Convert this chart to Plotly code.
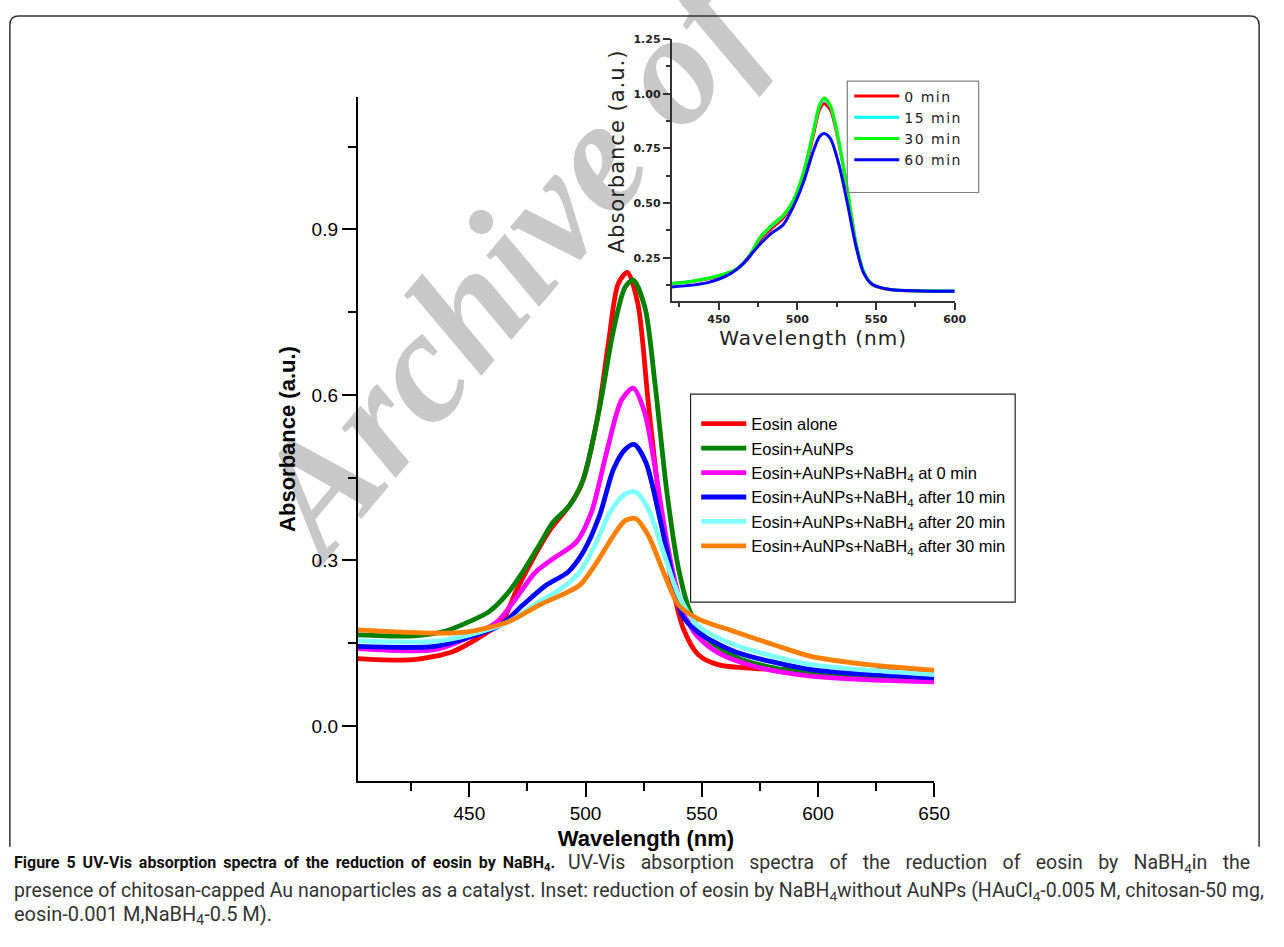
import plotly.graph_objects as go

W, H = 1284, 947

# ---- main panel: UV-Vis spectra with AuNPs (wavelength nm / absorbance a.u.)
wl_alone = [402, 426, 443, 456, 464, 470, 479, 485, 493, 498, 505, 510, 514, 518, 522.5, 527, 532, 537, 542, 548.5, 557, 573, 589, 610, 630, 650]
ab_alone = [0.122, 0.120, 0.135, 0.165, 0.189, 0.243, 0.315, 0.357, 0.399, 0.435, 0.555, 0.699, 0.801, 0.822, 0.765, 0.585, 0.399, 0.261, 0.177, 0.129, 0.111, 0.104, 0.102, 0.101, 0.100, 0.100]

wl_aunp = [402, 426, 439, 450, 458.5, 467, 473, 480, 486, 493, 499, 506, 512, 517, 520.5, 525.5, 530, 535, 540, 545, 551.5, 564, 581, 605, 630, 650]
ab_aunp = [0.165, 0.163, 0.171, 0.189, 0.207, 0.243, 0.279, 0.327, 0.369, 0.399, 0.447, 0.576, 0.717, 0.795, 0.808, 0.759, 0.615, 0.423, 0.285, 0.207, 0.161, 0.126, 0.105, 0.093, 0.089, 0.087]

wl_t0 = [402, 435, 450, 462, 470, 478.5, 486, 496, 502.5, 509, 515.5, 520.5, 525.5, 530, 535, 540, 546.5, 556, 572.5, 597, 625, 650]
ab_t0 = [0.140, 0.138, 0.161, 0.189, 0.231, 0.279, 0.303, 0.333, 0.387, 0.495, 0.591, 0.612, 0.567, 0.465, 0.333, 0.237, 0.171, 0.135, 0.108, 0.090, 0.083, 0.080]

wl_t10 = [402, 435, 450, 463.5, 473, 483, 492.5, 499, 506, 512, 517, 521, 526, 532, 537, 541.5, 548, 564, 597, 625, 650]
ab_t10 = [0.144, 0.144, 0.161, 0.183, 0.219, 0.255, 0.279, 0.315, 0.381, 0.465, 0.501, 0.510, 0.477, 0.375, 0.279, 0.201, 0.171, 0.135, 0.102, 0.093, 0.087]

wl_t20 = [402, 435, 450, 467, 480, 489.5, 497.5, 504, 510.5, 517, 521.5, 527, 533.5, 540, 548, 564, 597, 625, 650]
ab_t20 = [0.154, 0.153, 0.165, 0.189, 0.225, 0.249, 0.279, 0.327, 0.387, 0.420, 0.424, 0.393, 0.315, 0.237, 0.183, 0.147, 0.111, 0.100, 0.093]

wl_t30 = [402, 435, 450, 467, 480, 489.5, 497.5, 504, 512, 517, 521.5, 527, 533.5, 540, 548, 564, 581, 597, 621.5, 650]
ab_t30 = [0.174, 0.168, 0.171, 0.189, 0.219, 0.237, 0.255, 0.291, 0.345, 0.372, 0.376, 0.345, 0.279, 0.219, 0.195, 0.171, 0.147, 0.126, 0.111, 0.101]

main_names = ["Eosin alone", "Eosin+AuNPs",
              "Eosin+AuNPs+NaBH<sub>4</sub> at 0 min",
              "Eosin+AuNPs+NaBH<sub>4</sub> after 10 min",
              "Eosin+AuNPs+NaBH<sub>4</sub> after 20 min",
              "Eosin+AuNPs+NaBH<sub>4</sub> after 30 min"]
main_colors = ["#ff0000", "#008000", "#ff00ff", "#0000ff", "#80ffff", "#ff8000"]
main_x = [wl_alone, wl_aunp, wl_t0, wl_t10, wl_t20, wl_t30]
main_y = [ab_alone, ab_aunp, ab_t0, ab_t10, ab_t20, ab_t30]

# ---- inset: reduction without AuNPs
wl_in = [420, 432, 449, 462, 470, 476, 484, 491, 497, 504, 510, 514, 517, 521, 526.5, 532, 537, 542, 547.5, 558, 579, 600]
ab_in0 = [0.132, 0.140, 0.164, 0.198, 0.258, 0.330, 0.386, 0.432, 0.495, 0.630, 0.805, 0.925, 0.955, 0.925, 0.768, 0.548, 0.324, 0.187, 0.127, 0.104, 0.097, 0.097]
ab_in15 = [0.132, 0.141, 0.166, 0.200, 0.263, 0.338, 0.398, 0.441, 0.504, 0.640, 0.820, 0.942, 0.975, 0.942, 0.776, 0.551, 0.325, 0.188, 0.128, 0.105, 0.098, 0.098]
ab_in30 = [0.132, 0.141, 0.166, 0.201, 0.265, 0.341, 0.401, 0.444, 0.507, 0.644, 0.825, 0.947, 0.980, 0.947, 0.780, 0.553, 0.326, 0.189, 0.129, 0.106, 0.098, 0.098]
wl_in60 = [420, 443, 457.5, 466, 474.5, 482.5, 491, 497, 504, 510, 514, 517, 521, 526.5, 532, 537, 542, 547.5, 558, 579, 600]
ab_in60 = [0.116, 0.136, 0.177, 0.227, 0.298, 0.356, 0.401, 0.477, 0.598, 0.735, 0.803, 0.818, 0.795, 0.674, 0.492, 0.311, 0.182, 0.129, 0.106, 0.098, 0.097]

inset_names = ["0 min", "15 min", "30 min", "60 min"]
inset_colors = ["#ff0000", "#00ffff", "#00ff00", "#0000ff"]
inset_x = [wl_in, wl_in, wl_in, wl_in60]
inset_y = [ab_in0, ab_in15, ab_in30, ab_in60]


def px(x):
    return x / W


def py(y):
    return 1 - y / H


def spaced(s, sp):
    return f"<span style='letter-spacing:{sp}px'>{s}</span>"


fig = go.Figure()

for name, col, xs, ys in zip(main_names, main_colors, main_x, main_y):
    fig.add_trace(go.Scatter(x=xs, y=ys, name=name, mode="lines",
                             line=dict(color=col, width=4.8, shape="spline", smoothing=0.8),
                             xaxis="x", yaxis="y", legend="legend"))

for name, col, xs, ys in zip(inset_names, inset_colors, inset_x, inset_y):
    fig.add_trace(go.Scatter(x=xs, y=ys, name=spaced(name, 1.5), mode="lines",
                             line=dict(color=col, width=3, shape="spline", smoothing=0.8),
                             xaxis="x2", yaxis="y2", legend="legend2"))

sans = "Liberation Sans, Arial, sans-serif"
dv = "DejaVu Sans, sans-serif"

fig.update_layout(
    width=W, height=H,
    margin=dict(l=0, r=0, t=0, b=0),
    paper_bgcolor="white",
    plot_bgcolor="rgba(0,0,0,0)",
    xaxis=dict(domain=[px(362.3), px(946)], range=[402, 650], anchor="y",
               showline=True, linecolor="black", linewidth=2,
               ticks="outside", ticklen=14, tickwidth=2, tickcolor="black",
               tick0=400, dtick=50,
               minor=dict(dtick=25, ticklen=8, tickwidth=2, tickcolor="black", ticks="outside"),
               showgrid=False, zeroline=False,
               tickfont=dict(family=sans, size=19, color="black"),
               title=dict(text="<b>Wavelength (nm)</b>", font=dict(family=sans, size=22, color="black"), standoff=8)),
    yaxis=dict(domain=[py(780), py(91.5)], range=[-0.1, 1.14], anchor="x",
               showline=True, linecolor="black", linewidth=2,
               ticks="outside", ticklen=14, tickwidth=2, tickcolor="black",
               tick0=0, dtick=0.3, tickformat=".1f",
               minor=dict(dtick=0.15, ticklen=8, tickwidth=2, tickcolor="black", ticks="outside"),
               showgrid=False, zeroline=False,
               tickfont=dict(family=sans, size=19, color="black"),
               title=dict(text="<b>Absorbance (a.u.)</b>", font=dict(family=sans, size=22, color="black"), standoff=10)),
    xaxis2=dict(domain=[px(680), px(966.7)], range=[420, 600], anchor="y2",
                showline=True, linecolor="#333333", linewidth=1.5,
                ticks="outside", ticklen=7, tickwidth=1.5, tickcolor="#333333",
                tick0=400, dtick=50,
                minor=dict(dtick=25, ticklen=4, tickwidth=1.5, tickcolor="#333333", ticks="outside"),
                showgrid=False, zeroline=False,
                tickfont=dict(family=dv, size=11, color="#222222", weight="bold"),
                title=dict(text=spaced("Wavelength (nm)", 1), font=dict(family=dv, size=20, color="#222222"), standoff=2)),
    yaxis2=dict(domain=[py(297.3), py(33.3)], range=[0.05, 1.25], anchor="x2",
                showline=True, linecolor="#333333", linewidth=1.5,
                ticks="outside", ticklen=7, tickwidth=1.5, tickcolor="#333333",
                tick0=0, dtick=0.25, tickformat=".2f",
                minor=dict(dtick=0.125, ticklen=4, tickwidth=1.5, tickcolor="#333333", ticks="outside"),
                showgrid=False, zeroline=False,
                tickfont=dict(family=dv, size=11, color="#222222", weight="bold")),
    legend=dict(x=px(705), y=py(403), xanchor="left", yanchor="top",
                bgcolor="rgba(0,0,0,0)", borderwidth=0,
                font=dict(family=sans, size=16.5, color="black"),
                itemwidth=45, tracegroupgap=0),
    legend2=dict(x=px(860), y=py(75), xanchor="left", yanchor="top",
                 bgcolor="rgba(0,0,0,0)", borderwidth=0,
                 font=dict(family=dv, size=14, color="#222222"),
                 itemwidth=45, tracegroupgap=0),
    showlegend=True,
)

# inset y-axis title, placed a little above the axis centre
fig.add_annotation(text=spaced("Absorbance (a.u.)", 1), xref="paper", yref="paper",
                   x=px(625), y=py(146), xanchor="center", yanchor="middle", textangle=-90,
                   showarrow=False, font=dict(family=dv, size=21, color="#222222"))

shapes = []
# legend frames
shapes.append(dict(type="rect", xref="paper", yref="paper",
                   x0=px(699.3), x1=px(1028), y0=py(600), y1=py(390.7),
                   line=dict(color="#222222", width=1.2), fillcolor="rgba(0,0,0,0)"))
shapes.append(dict(type="rect", xref="paper", yref="paper",
                   x0=px(858), x1=px(991), y0=py(187.7), y1=py(75.7),
                   line=dict(color="#808080", width=1.2), fillcolor="rgba(0,0,0,0)"))

# rounded panel frame, open at the bottom above the caption
r = 9
fx0, fx1, fy0, fy1 = 10, 1275, 10, 846
path = (f"M {px(fx0)},{py(fy1)} L {px(fx0)},{py(fy0 + r)} "
        f"Q {px(fx0)},{py(fy0)} {px(fx0 + r)},{py(fy0)} "
        f"L {px(fx1 - r)},{py(fy0)} Q {px(fx1)},{py(fy0)} {px(fx1)},{py(fy0 + r)} "
        f"L {px(fx1)},{py(fy1)}")
shapes.append(dict(type="path", path=path, xref="paper", yref="paper",
                   line=dict(color="#333333", width=1.5)))

# diagonal watermark, kept underneath the plotted data
wm_angle = 50
cx, cy = 598, 130
ux, uy = 0.643, -0.766
L = 300
shapes.append(dict(type="line", xref="paper", yref="paper", layer="below",
                   x0=px(cx - L * ux), y0=py(cy - L * uy), x1=px(cx + L * ux), y1=py(cy + L * uy),
                   line=dict(color="rgba(0,0,0,0)", width=0),
                   label=dict(text="Archive of SID", textposition="middle", yanchor="middle",
                              textangle=-wm_angle,
                              font=dict(family="Liberation Serif, Times New Roman, serif", size=160,
                                        color="#c8c8c8", weight="bold", style="italic"))))
fig.update_layout(shapes=shapes)

# caption below the panel (first two lines spread to the full width)
cap_font = "Roboto, sans-serif"
fig.add_annotation(text="<span style='word-spacing:3px'>Figure 5 UV-Vis absorption spectra of the reduction of eosin by NaBH<sub>4</sub>.</span>",
                   xref="paper", yref="paper", x=px(12), y=py(863), xanchor="left", yanchor="middle",
                   showarrow=False, font=dict(family=cap_font, size=16, color="#111111", weight="bold"))
fig.add_annotation(text="<span style='word-spacing:10.5px'>UV-Vis absorption spectra of the reduction of eosin by NaBH<sub>4</sub>in the</span>",
                   xref="paper", yref="paper", x=px(1268), y=py(863), xanchor="right", yanchor="middle",
                   showarrow=False, font=dict(family=cap_font, size=19.5, color="#333333"))
fig.add_annotation(text="presence of chitosan-capped Au nanoparticles as a catalyst. Inset: reduction of eosin by "
                        "NaBH<sub>4</sub>without AuNPs (HAuCl<sub>4</sub>-0.005 M, chitosan-50 mg,",
                   xref="paper", yref="paper", x=px(12), y=py(891), xanchor="left", yanchor="middle",
                   showarrow=False, font=dict(family=cap_font, size=19.5, color="#333333"))
fig.add_annotation(text="eosin-0.001 M,NaBH<sub>4</sub>-0.5 M).",
                   xref="paper", yref="paper", x=px(12), y=py(915), xanchor="left", yanchor="middle",
                   showarrow=False, font=dict(family=cap_font, size=20, color="#333333"))

fig.write_html("out.html")
